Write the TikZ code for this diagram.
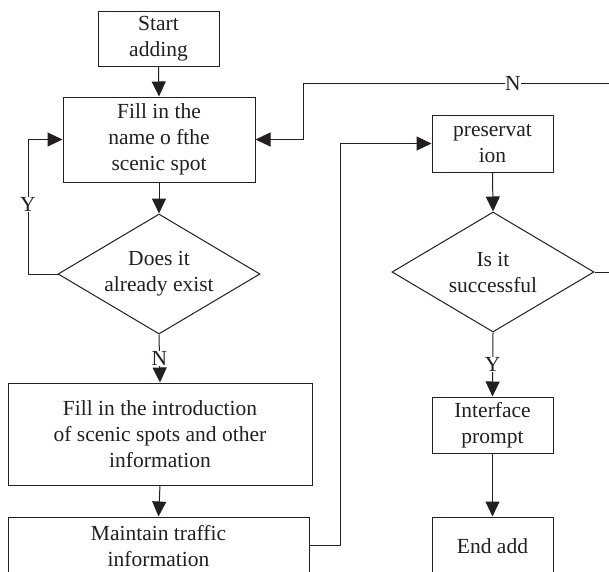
\documentclass[tikz,border=0pt]{standalone}
\usepackage{fontspec}
\setmainfont{Liberation Serif}
\usetikzlibrary{shapes.geometric,arrows.meta}
\definecolor{ink}{HTML}{231F20}
\begin{document}
\begin{tikzpicture}[x=1pt,y=-1pt,
  every node/.style={font=\fontsize{21.5}{26}\selectfont, text=ink},
  box/.style={draw=ink, line width=1pt, rectangle, align=center, inner sep=0pt},
  dec/.style={draw=ink, line width=1pt, diamond, aspect=1.68, align=center, inner sep=0pt},
  conn/.style={draw=ink, line width=1pt},
  arr/.style={conn, -{Triangle[width=14pt,length=15pt]}},
  lbl/.style={fill=white, inner sep=0.5pt}]
\clip (0,0) rectangle (609,571);
\fill[white] (0,0) rectangle (609,571);
% nodes
\node[box, minimum width=121pt, minimum height=55pt] (start) at (158.5,38.5) {Start\\adding};
\node[box, minimum width=192pt, minimum height=85pt] (fillname) at (159,139.5) {Fill in the\\name o fthe\\scenic spot};
\node[dec, minimum width=202pt, minimum height=120pt] (d1) at (159,274) {Does it\\already exist};
\node[box, minimum width=304pt, minimum height=102pt] (intro) at (160,434) {Fill in the introduction\\of scenic spots and other\\information};
\node[box, minimum width=301pt, minimum height=58pt] (maint) at (158.5,546) {Maintain traffic\\information};
\node[box, minimum width=121pt, minimum height=57pt] (pres) at (492.5,143.5) {preservat\\ion};
\node[dec, minimum width=202pt, minimum height=120pt] (d2) at (493,272) {Is it\\successful};
\node[box, minimum width=121pt, minimum height=56pt] (iface) at (492.5,425) {Interface\\prompt};
\node[box, minimum width=121pt, minimum height=58pt] (endadd) at (492.5,546) {End add};
% helper coordinates
\coordinate (yl1) at (28,274);
\coordinate (yl2) at (28,139.5);
\coordinate (m1) at (340,545);
\coordinate (m2) at (340,143.5);
\coordinate (n1) at (625,272);
\coordinate (n2) at (625,83);
\coordinate (n3) at (303,83);
\coordinate (n4) at (303,139.5);
% connectors
\draw[arr] (start.south) -- (fillname.north);
\draw[arr] (fillname.south) -- (d1.north);
\draw[arr] (d1.west) -- (yl1) -- node[lbl, pos=0.52] (ylab) {Y} (yl2) -- (fillname.west);
\draw[arr] (d1.south) -- node[lbl, pos=0.5] (nlab) {N} (intro.north);
\draw[arr] (intro.south) -- (maint.north);
\draw[arr] (maint.east |- m1) -- (m1) -- (m2) -- (pres.west);
\draw[arr] (pres.south) -- (d2.north);
\draw[arr] (d2.east) -- (n1) -- (n2) -- node[lbl, pos=0.348] (nlab2) {N} (n3) -- (n4) -- (fillname.east);
\draw[arr] (d2.south) -- node[lbl, pos=0.5] (ylab2) {Y} (iface.north);
\draw[arr] (iface.south) -- (endadd.north);
\end{tikzpicture}
\end{document}
